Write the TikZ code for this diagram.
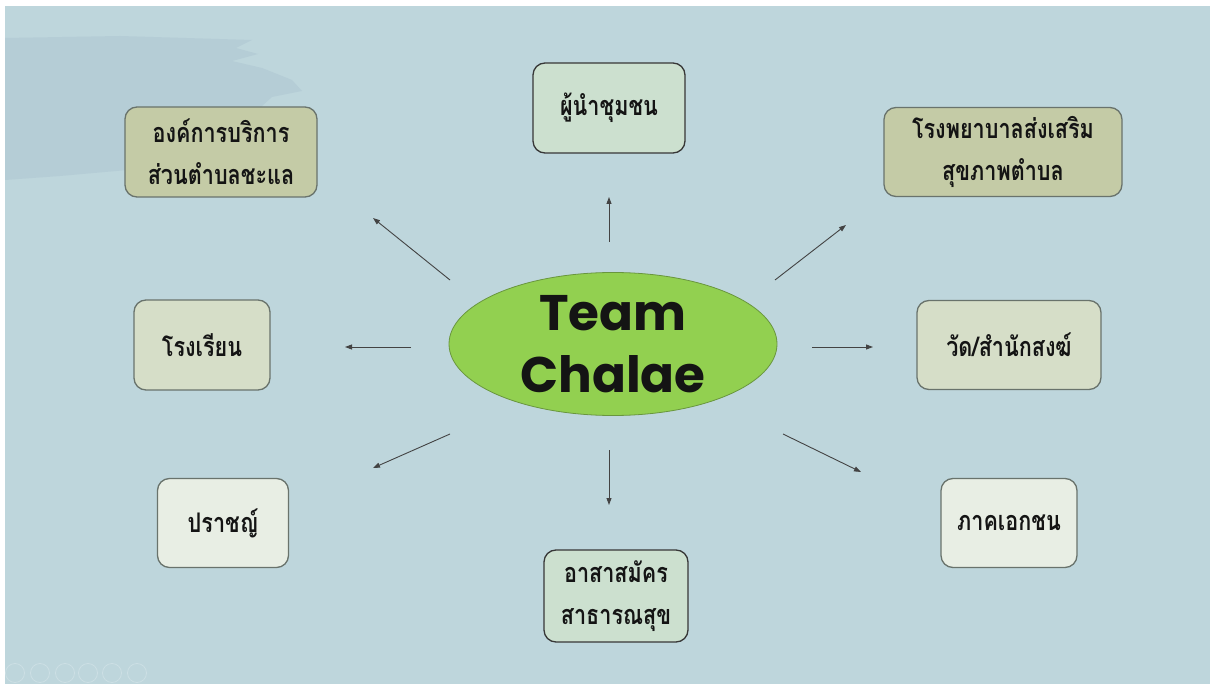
\documentclass[tikz,border=0pt]{standalone}
\usepackage{fontspec}
\usepackage{xcolor}
\usepackage{tikz}
\usetikzlibrary{arrows.meta, shapes.geometric}
\newfontfamily\thaifont[Script=Thai, FakeStretch=0.8]{Loma}
\newfontfamily\titlefont{Poppins}
\definecolor{ink}{RGB}{20,20,20}
\definecolor{rim}{RGB}{105,115,108}
\definecolor{slide}{RGB}{190,214,220}
\definecolor{brush}{RGB}{181,205,214}
\definecolor{olive}{RGB}{196,203,166}
\definecolor{paleolive}{RGB}{214,222,200}
\definecolor{mint}{RGB}{204,224,207}
\definecolor{chalk}{RGB}{232,238,228}
\definecolor{lime}{RGB}{146,208,80}
\definecolor{limerim}{RGB}{105,150,62}
\tikzset{
  bubble/.style    ={rectangle, rounded corners=12pt, draw=rim, line width=1.3pt,
                     inner sep=0pt, text=ink, align=center,
                     font=\thaifont\bfseries\fontsize{27}{42}\selectfont},
  olivebubble/.style={bubble, fill=olive},
  palebubble/.style ={bubble, fill=paleolive},
  mintbubble/.style ={bubble, fill=mint, draw=ink!85},
  chalkbubble/.style={bubble, fill=chalk},
  hub/.style       ={ellipse, fill=lime, draw=limerim, line width=0.8pt, inner sep=0pt,
                     align=center, text=ink,
                     font=\titlefont\bfseries\fontsize{50}{62}\selectfont},
  arr/.style       ={-{Triangle[length=7pt, width=5pt]}, line width=0.9pt, color=ink!80},
  navdot/.style    ={draw=white!22!slide, line width=0.8pt},
}
\begin{document}
\begin{tikzpicture}[x=1pt, y=-1pt]
\useasboundingbox (0,0) rectangle (1210,684);
\fill[white] (0,0) rectangle (1210,684);
\fill[slide] (5,6) rectangle (1210,684);
% brush stroke behind the top-left box
\fill[brush] (5,38) -- (120,36) -- (252,40) -- (236,48) -- (258,54) -- (232,61)
  -- (262,68) -- (292,80) -- (302,91) -- (272,97) -- (262,106) -- (240,140)
  -- (150,168) -- (60,176) -- (5,180) -- cycle;
% slideshow controls
\foreach \cx in {15,40,65,88,112,137}
  \draw[navdot] (\cx,673) circle (9.5);

\node[hub, minimum width=328pt, minimum height=143pt] (team) at (613,344) {Team\\Chalae};

\node[olivebubble, minimum width=192pt, minimum height=90pt] (oabt) at (221,152) {องค์การบริการ\\ส่วนตำบลชะแล};
\node[mintbubble, minimum width=152pt, minimum height=90pt] (lead) at (609,108) {ผู้นำชุมชน};
\node[olivebubble, minimum width=238pt, minimum height=89pt] (rpst) at (1003,152) {โรงพยาบาลส่งเสริม\\สุขภาพตำบล};
\node[palebubble, minimum width=136pt, minimum height=90pt] (school) at (202,345) {โรงเรียน};
\node[palebubble, minimum width=184pt, minimum height=89pt] (temple) at (1009,345) {วัด/สำนักสงฆ์};
\node[chalkbubble, minimum width=131pt, minimum height=89pt] (sage) at (223,523) {ปราชญ์};
\node[mintbubble, minimum width=144pt, minimum height=92pt] (osm) at (616,596) {อาสาสมัคร\\สาธารณสุข};
\node[chalkbubble, minimum width=136pt, minimum height=89pt] (private) at (1009,523) {ภาคเอกชน};

\coordinate (nwS) at (450,280);  \coordinate (nwE) at (373,218);
\coordinate (nS)  at (609,242);  \coordinate (nE)  at (609,197);
\coordinate (neS) at (775,280);  \coordinate (neE) at (846,225);
\coordinate (wS)  at (411,347);  \coordinate (wE)  at (345,347);
\coordinate (eS)  at (812,347);  \coordinate (eE)  at (873,347);
\coordinate (swS) at (450,434);  \coordinate (swE) at (373,468);
\coordinate (sS)  at (609,450);  \coordinate (sE)  at (609,505);
\coordinate (seS) at (783,434);  \coordinate (seE) at (861,472);
\draw[arr] (nwS) -- (nwE);
\draw[arr] (nS) -- (nE);
\draw[arr] (neS) -- (neE);
\draw[arr] (wS) -- (wE);
\draw[arr] (eS) -- (eE);
\draw[arr] (swS) -- (swE);
\draw[arr] (sS) -- (sE);
\draw[arr] (seS) -- (seE);
\end{tikzpicture}
\end{document}
